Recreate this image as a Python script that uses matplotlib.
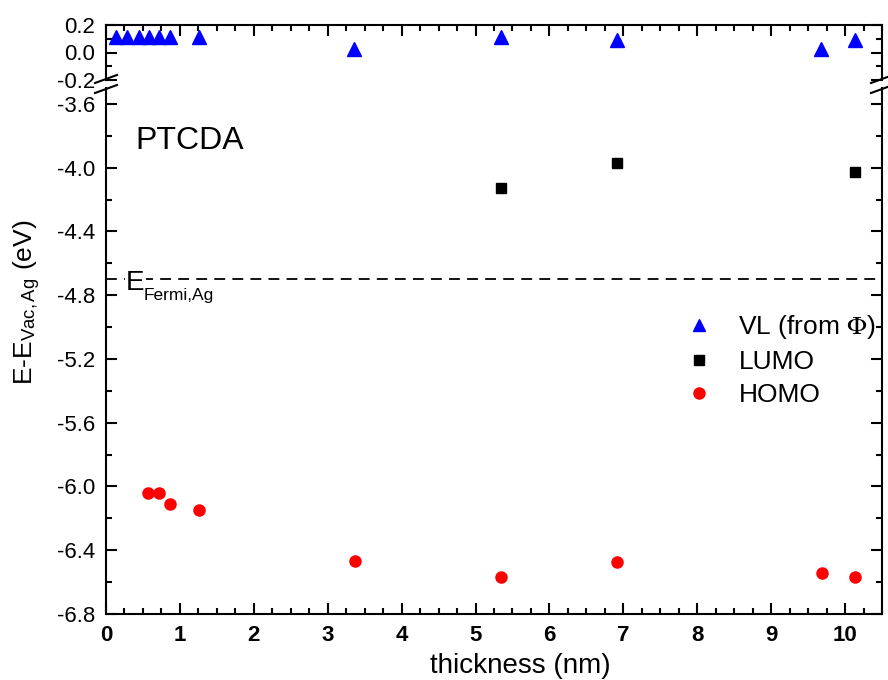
import numpy as np
import matplotlib
matplotlib.use("Agg")
from matplotlib import pyplot as plt
from matplotlib.ticker import MultipleLocator, FixedLocator

plt.rcParams['font.family'] = ['Liberation Sans', 'DejaVu Sans']
plt.rcParams['mathtext.fontset'] = 'stix'
plt.rcParams['axes.unicode_minus'] = False

# data
vl_x = [0.13, 0.29, 0.44, 0.58, 0.72, 0.87, 1.26, 3.36, 5.34, 6.92, 9.68, 10.14]
vl_y = [0.11, 0.11, 0.11, 0.11, 0.11, 0.11, 0.11, 0.027, 0.11, 0.089, 0.027, 0.089]
lumo_x = [5.34, 6.92, 10.14]
lumo_y = [-4.125, -3.97, -4.03]
homo_x = [0.57, 0.72, 0.87, 1.26, 3.37, 5.35, 6.91, 9.69, 10.14]
homo_y = [-6.04, -6.04, -6.11, -6.15, -6.467, -6.567, -6.475, -6.54, -6.567]
e_fermi = -4.7

W, H = 888, 680
fig = plt.figure(figsize=(W / 100, H / 100), dpi=100)

left, right = 106, 882
ax_lo = fig.add_axes([left / W, 1 - 614 / H, (right - left) / W, (614 - 88) / H])
ax_hi = fig.add_axes([left / W, 1 - 80 / H, (right - left) / W, (80 - 25) / H], sharex=ax_lo)

tick_kw = dict(direction='in', width=1.5, labelsize=16)
for ax in (ax_lo, ax_hi):
    for s in ax.spines.values():
        s.set_linewidth(1.5)
    ax.xaxis.set_major_locator(MultipleLocator(1))
    ax.xaxis.set_minor_locator(MultipleLocator(0.25))
    ax.tick_params(which='major', length=8, pad=8, **tick_kw)
    ax.tick_params(which='minor', length=4.5, **tick_kw)

# lower segment
ax_lo.spines['top'].set_visible(False)
ax_lo.tick_params(which='both', top=False, right=True, bottom=True, left=True)
ax_lo.set_ylim(-6.8, -3.5)
ax_lo.set_xlim(0, 10.5)
lo_ticks = np.arange(-6.8, -3.5, 0.4)
ax_lo.yaxis.set_major_locator(FixedLocator(lo_ticks))
ax_lo.yaxis.set_minor_locator(MultipleLocator(0.2))
ax_lo.set_yticklabels([f"{v:.1f}" for v in lo_ticks])
for lab in ax_lo.get_xticklabels():
    lab.set_fontweight('bold')

# upper segment
ax_hi.spines['bottom'].set_visible(False)
ax_hi.tick_params(which='both', top=True, right=True, bottom=False, left=True,
                  labelbottom=False)
ax_hi.set_ylim(-0.2, 0.2)
ax_hi.yaxis.set_major_locator(FixedLocator([-0.2, 0.0, 0.2]))
ax_hi.yaxis.set_minor_locator(MultipleLocator(0.1))
ax_hi.set_yticklabels(["-0.2", "0.0", "0.2"])

# data
ax_hi.plot(vl_x, vl_y, '^', color='#0000ff', ms=10, clip_on=False)
ax_lo.plot([], [], '^', color='#0000ff', ms=9, label=r'VL (from $\Phi$)')
ax_lo.plot(lumo_x, lumo_y, 's', color='black', ms=7, label='LUMO')
ax_lo.plot(homo_x, homo_y, 'o', color='#ff0000', ms=8, label='HOMO')

# Fermi level
ax_lo.plot([0, 10.5], [e_fermi, e_fermi], '--', color='black', lw=1.3,
           dashes=(6, 4), zorder=1)
ax_lo.text(0.27, -4.767, 'E', fontsize=20, va='baseline', ha='left', zorder=2,
           bbox=dict(facecolor='white', edgecolor='none', pad=1))
ax_lo.text(0.514, -4.83, 'Fermi,Ag', fontsize=12.5, va='baseline', ha='left')

ax_lo.text(0.4, -3.83, 'PTCDA', fontsize=23, va='center', ha='left')

ax_lo.legend(loc='upper left', bbox_to_anchor=(0.73, 0.592), frameon=False,
             fontsize=19, handletextpad=0.9, labelspacing=0.34, borderaxespad=0,
             handlelength=1.2)

ax_lo.set_xlabel('thickness (nm)', fontsize=20)
ax_lo.xaxis.set_label_coords(0.534, -0.075)
fig.text(27 / W, 1 - 302 / H, r'E-E$_{\mathregular{Vac,Ag}}$ (eV)', fontsize=19,
         rotation=90, va='center', ha='center')

# axis break marks
for xc in (left, right):
    for yc in (79, 89):
        fig.add_artist(plt.Line2D([(xc - 11) / W, (xc + 11) / W],
                                  [1 - (yc + 4) / H, 1 - (yc - 4) / H],
                                  color='black', lw=1.5))

fig.savefig('out.png', dpi=100)
